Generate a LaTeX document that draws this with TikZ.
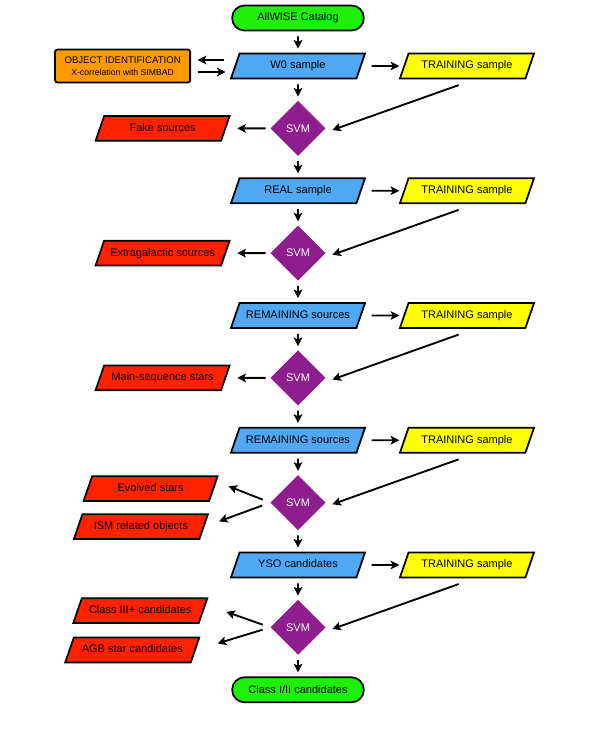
\documentclass[tikz,border=0pt]{standalone}
\usepackage{fontspec}
\setsansfont{Liberation Sans}
\usetikzlibrary{arrows.meta,positioning,shapes.geometric}

\definecolor{catgreen}{RGB}{30,240,10}
\definecolor{sampleblue}{RGB}{80,168,245}
\definecolor{trainyellow}{RGB}{255,255,0}
\definecolor{rejectred}{RGB}{255,34,0}
\definecolor{identorange}{RGB}{255,153,0}
\definecolor{svmpurple}{RGB}{142,30,142}

\begin{document}
\begin{tikzpicture}
[x=0.03cm, y=-0.03cm, node distance=0.64cm and 1.25cm,
% STYLES
every node/.style={font=\sffamily\fontsize{9.4}{11}\selectfont},
% The terminal style is used for the catalogue and the final candidates
terminal/.style={rectangle, rounded corners=0.37cm, draw, line width=1.5pt, fill=catgreen, minimum width=3.95cm, minimum height=0.75cm},
% The data style is used to draw every parallelogram
data/.style={trapezium, trapezium left angle=71, trapezium right angle=109, trapezium stretches body, draw, line width=1.5pt, minimum width=4.02cm, text height=7pt, text depth=2pt, inner ysep=6.1pt, inner xsep=1pt},
sample/.style={data, fill=sampleblue},
training/.style={data, fill=trainyellow},
reject/.style={data, fill=rejectred},
% The svm style is used to draw the classifier steps
svm/.style={diamond, aspect=1, fill=svmpurple, text=white, minimum size=1.65cm, inner sep=0pt},
ident/.style={rectangle, rounded corners=2pt, draw, line width=1.5pt, fill=identorange, minimum width=4.05cm, minimum height=0.99cm, align=center, inner sep=1pt},
flow/.style={-{Stealth[length=0.26cm, width=0.26cm, inset=0.06cm]}, line width=1.6pt, shorten <=0.15cm, shorten >=0.12cm}]

\useasboundingbox (0,0) rectangle (598,733);

% Draw the main chain
\node [terminal] (catalog) at (298,18) {AllWISE Catalog};
\node [sample, below=of catalog] (w0) {W0 sample};
\node [svm, below=of w0] (svm1) {SVM};
\node [sample, below=of svm1] (real) {REAL sample};
\node [svm, below=of real] (svm2) {SVM};
\node [sample, below=of svm2] (remain1) {REMAINING sources};
\node [svm, below=of remain1] (svm3) {SVM};
\node [sample, below=of svm3] (remain2) {REMAINING sources};
\node [svm, below=of remain2] (svm4) {SVM};
\node [sample, below=of svm4] (yso) {YSO candidates};
\node [svm, below=of yso] (svm5) {SVM};
\node [terminal, below=of svm5] (classII) {Class I/II candidates};

% TRAINING
\node [training, right=of w0] (train1) {TRAINING sample};
\node [training, right=of real] (train2) {TRAINING sample};
\node [training, right=of remain1] (train3) {TRAINING sample};
\node [training, right=of remain2] (train4) {TRAINING sample};
\node [training, right=of yso] (train5) {TRAINING sample};

% OBJECT IDENTIFICATION
\node [ident, left=1.3cm of w0] (ident) {{\fontsize{8.2}{9.5}\selectfont OBJECT IDENTIFICATION}\\[-1pt]{\fontsize{7.4}{8.5}\selectfont X-correlation with SIMBAD}};

% REJECTED
\node [reject, left=1.32cm of svm1] (fake) {Fake sources};
\node [reject, left=1.32cm of svm2] (extragal) {Extragalactic sources};
\node [reject, left=1.32cm of svm3] (mainseq) {Main-sequence stars};
\node [reject, left=1.68cm of svm4, yshift=0.42cm] (evolved) {Evolved stars};
\node [reject, left=1.97cm of svm4, yshift=-0.72cm] (ism) {ISM related objects};
\node [reject, left=1.99cm of svm5, yshift=0.5cm] (classIII) {Class III+ candidates};
\node [reject, left=2.23cm of svm5, yshift=-0.68cm] (agb) {AGB star candidates};

% Draw the links between steps
\path[flow]
    (catalog) edge (w0)
    (w0) edge (svm1)
    (svm1) edge (real)
    (real) edge (svm2)
    (svm2) edge (remain1)
    (remain1) edge (svm3)
    (svm3) edge (remain2)
    (remain2) edge (svm4)
    (svm4) edge (yso)
    (yso) edge (svm5)
    (svm5) edge (classII);

\path[flow, shorten <=0.3cm, shorten >=0.12cm]
    (w0) edge (train1)
    (real) edge (train2)
    (remain1) edge (train3)
    (remain2) edge (train4)
    (yso) edge (train5);

\path[flow, shorten <=0.52cm, shorten >=0.21cm]
    ([xshift=0.24cm]train1.south) edge ([yshift=-0.12cm]svm1.east)
    ([xshift=0.24cm]train2.south) edge ([yshift=-0.12cm]svm2.east)
    ([xshift=0.24cm]train3.south) edge ([yshift=-0.12cm]svm3.east)
    ([xshift=0.24cm]train4.south) edge ([yshift=-0.12cm]svm4.east)
    ([xshift=0.24cm]train5.south) edge ([yshift=-0.12cm]svm5.east);

\path[flow, shorten <=0.14cm, shorten >=0.33cm]
    (svm1) edge (fake)
    (svm2) edge (extragal)
    (svm3) edge (mainseq);

\path[flow]
    ([yshift=0.18cm]w0.west) edge[shorten <=0.3cm, shorten >=0.2cm] ([yshift=0.18cm]ident.east)
    ([yshift=-0.18cm]ident.east) edge[shorten <=0.2cm, shorten >=0.26cm] ([yshift=-0.18cm]w0.west)
    (svm4.west) edge[shorten <=0.24cm, shorten >=0.46cm] ([yshift=0.24cm]evolved.east)
    (svm4.west) edge[shorten <=0.26cm, shorten >=0.46cm] (ism.east)
    (svm5.west) edge[shorten <=0.24cm, shorten >=0.71cm] ([yshift=0.2cm]classIII.east)
    (svm5.west) edge[shorten <=0.24cm, shorten >=0.68cm] (agb.east);

\end{tikzpicture}
\end{document}
